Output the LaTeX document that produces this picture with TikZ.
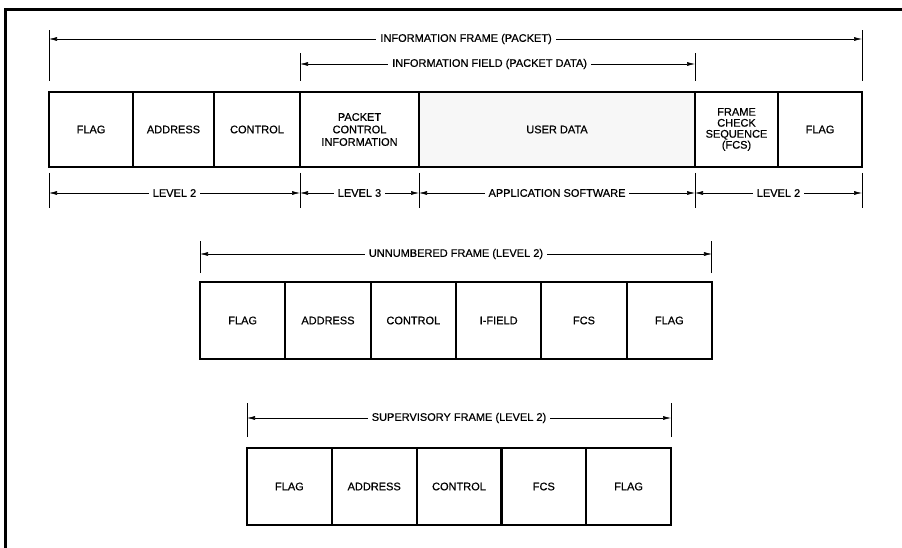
\documentclass[tikz,border=0pt]{standalone}
\usepackage{fontspec}
\setmainfont{Liberation Sans}[FakeBold=0.6]
\usetikzlibrary{arrows.meta,positioning}

\begin{document}
\begin{tikzpicture}[x=1pt,y=-1pt,font=\fontsize{11}{12.5}\selectfont,
  cell/.style={draw,line width=2.2pt,outer sep=0pt,inner sep=1pt,align=center,minimum height=#1},cell/.default=77,
  tick/.style={line width=1pt},
  dim/.style={line width=.6pt,{Latex[length=8pt,width=4pt]}-{Latex[length=8pt,width=4pt]}},
  lbl/.style={fill=white,inner xsep=4pt,inner ysep=1pt}]
\useasboundingbox (0,0) rectangle (902,548);
\draw[line width=3pt] (902,10)--(5,10)--(5,548);
% information frame
\node[cell=75,minimum width=84,anchor=west] (m1) at (49,129.5) {FLAG};
\node[cell=75,minimum width=81,right=0pt of m1] (m2) {ADDRESS};
\node[cell=75,minimum width=86,right=0pt of m2] (m3) {CONTROL};
\node[cell=75,minimum width=119,right=0pt of m3] (m4) {PACKET\\CONTROL\\INFORMATION};
\node[cell=75,minimum width=276,fill=black!3,right=0pt of m4] (m5) {USER DATA};
\node[cell=75,minimum width=83,font=\fontsize{11}{11}\selectfont,right=0pt of m5] (m6) {FRAME\\CHECK\\SEQUENCE\\(FCS)};
\node[cell=75,minimum width=84,right=0pt of m6] (m7) {FLAG};
\draw[tick] (m1.north west) ++(0,-11)--++(0,-51);\draw[tick] (m7.north east) ++(0,-11)--++(0,-51);
\path (m1.north west) ++(0,-53) coordinate (fa);\path (m7.north east) ++(0,-53) coordinate (fb);
\draw[dim] (fa)--node[lbl,pos=.513]{INFORMATION FRAME (PACKET)} (fb);
\draw[tick] (m4.north west) ++(0,-11)--++(0,-28);\draw[tick] (m5.north east) ++(0,-11)--++(0,-28);
\path (m4.north west) ++(0,-28) coordinate (ia);\path (m5.north east) ++(0,-28) coordinate (ib);
\draw[dim] (ia)--node[lbl,pos=.48]{INFORMATION FIELD (PACKET DATA)} (ib);
\foreach \n [count=\i] in {m1.south west,m4.south west,m5.south west,m6.south west,m7.south east}{\draw[tick] (\n) ++(0,6)--++(0,35);\path (\n) ++(0,26) coordinate (b\i);}
\draw[dim] (b1)--node[lbl]{LEVEL 2} (b2);\draw[dim] (b2)--node[lbl]{LEVEL 3} (b3);
\draw[dim] (b3)--node[lbl]{APPLICATION SOFTWARE} (b4);\draw[dim] (b4)--node[lbl]{LEVEL 2} (b5);
% unnumbered frame
\node[cell,minimum width=85.33,anchor=west] (u1) at (200,320.5) {FLAG};
\node[cell,minimum width=85.33,right=0pt of u1] (u2) {ADDRESS};
\node[cell,minimum width=85.33,right=0pt of u2] (u3) {CONTROL};
\node[cell,minimum width=85.33,right=0pt of u3] (u4) {I-FIELD};
\node[cell,minimum width=85.33,right=0pt of u4] (u5) {FCS};
\node[cell,minimum width=85.33,right=0pt of u5] (u6) {FLAG};
\draw[tick] (u1.north west) ++(0,-9)--++(0,-32);\draw[tick] (u6.north east) ++(0,-9)--++(0,-32);
\path (u1.north west) ++(0,-28) coordinate (ua);\path (u6.north east) ++(0,-28) coordinate (ub);
\draw[dim] (ua)--node[lbl]{UNNUMBERED FRAME (LEVEL 2)} (ub);
% supervisory frame
\node[cell,minimum width=84.8,anchor=west] (s1) at (247,486.5) {FLAG};
\node[cell,minimum width=84.8,right=0pt of s1] (s2) {ADDRESS};
\node[cell,minimum width=84.8,right=0pt of s2] (s3) {CONTROL};
\node[cell,minimum width=84.8,right=0pt of s3] (s4) {FCS};
\node[cell,minimum width=84.8,right=0pt of s4] (s5) {FLAG};
\draw[tick] (s1.north west) ++(0,-11)--++(0,-34);\draw[tick] (s5.north east) ++(0,-11)--++(0,-34);
\path (s1.north west) ++(0,-30) coordinate (sa);\path (s5.north east) ++(0,-30) coordinate (sb);
\draw[dim] (sa)--node[lbl]{SUPERVISORY FRAME (LEVEL 2)} (sb);
\end{tikzpicture}
\end{document}
